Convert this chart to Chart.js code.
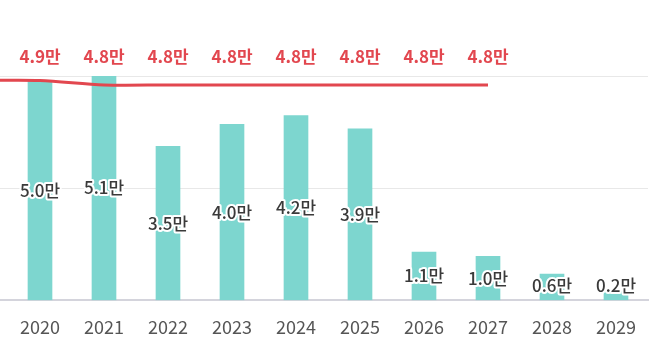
<!DOCTYPE html>
<html>
<head>
<meta charset="utf-8">
<script src="https://cdn.jsdelivr.net/npm/chart.js@4/dist/chart.umd.min.js"></script>
<style>
    html, body { margin: 0; padding: 0; background: #fff; overflow: hidden; }
    #wrap { position: absolute; left: -64px; top: 0; width: 733px; height: 352px; }
</style>
</head>
<body>
<div id="wrap"><canvas id="chart" width="733" height="352"></canvas></div>
<script>
// 2019 sits just off the left edge, like the cropped original
const years = ['2019', '2020', '2021', '2022', '2023', '2024', '2025', '2026', '2027', '2028', '2029'];
const barValues = [null, 5.0, 5.1, 3.5, 4.0, 4.2, 3.9, 1.1, 1.0, 0.6, 0.2];
const lineValues = [4.9, 4.9, 4.8, 4.8, 4.8, 4.8, 4.8, 4.8, 4.8, null, null];

const fontFamily = '"Noto Sans CJK KR", "Noto Sans", sans-serif';

function fmt(v){
    return v.toFixed(1) + '만';
}

const labelPlugin = {
    id: 'valueLabels',
    afterDatasetsDraw(chart){
        const ctx = chart.ctx;
        const area = chart.chartArea;
        ctx.save();
        ctx.textAlign = 'center';
        ctx.textBaseline = 'middle';

        // bar labels, centred in the bar, dark text with white halo
        let barMeta = chart.getDatasetMeta(0);
        ctx.font = '500 17px ' + fontFamily;
        barMeta.data.forEach((bar, i) => {
            let v = barValues[i];
            if (v === null) return;
            let y = (bar.y + bar.base) / 2;
            y = Math.min(y, area.bottom - 15);
            ctx.lineWidth = 4;
            ctx.strokeStyle = '#ffffff';
            ctx.lineJoin = 'round';
            ctx.strokeText(fmt(v), bar.x, y);
            ctx.fillStyle = '#3a3a3a';
            ctx.fillText(fmt(v), bar.x, y);
        });

        // line labels, all in one row above the plot
        let lineMeta = chart.getDatasetMeta(1);
        ctx.font = 'bold 17px ' + fontFamily;
        ctx.fillStyle = '#e2474f';
        lineMeta.data.forEach((pt, i) => {
            let v = lineValues[i];
            if (v === null) return;
            ctx.fillText(fmt(v), pt.x, area.top - 19);
        });
        ctx.restore();
    }
};

const data = {
    labels: years,
    datasets: [{
        type: 'bar',
        label: 'bars',
        data: barValues,
        backgroundColor: 'rgb(125,214,207)',
        barThickness: 24,
        yAxisID: 'y',
        order: 2
    }, {
        type: 'line',
        label: 'line',
        data: lineValues,
        borderColor: '#e2474f',
        borderWidth: 3,
        pointRadius: 0,
        tension: 0.3,
        yAxisID: 'y1',
        order: 1
    }]
};

const config = {
    data: data,
    options: {
        responsive: false,
        animation: false,
        layout: {padding: {left: 8, right: 21, top: 76, bottom: 6}},
        plugins: {legend: {display: false}, tooltip: {enabled: false}},
        scales: {
            x: {
                grid: {display: false},
                border: {color: '#d4d4dc', width: 2},
                ticks: {
                    color: '#555',
                    padding: 8,
                    font: {family: fontFamily, size: 18}
                }
            },
            y: {
                min: 0,
                max: 5.1,
                ticks: {display: false, stepSize: 2.55},
                grid: {color: '#e8e8e8', drawTicks: false},
                border: {display: false}
            },
            y1: {
                display: false,
                min: 0,
                max: 5.0
            }
        }
    },
    plugins: [labelPlugin]
};

new Chart(document.getElementById('chart'), config);
</script>
</body>
</html>
